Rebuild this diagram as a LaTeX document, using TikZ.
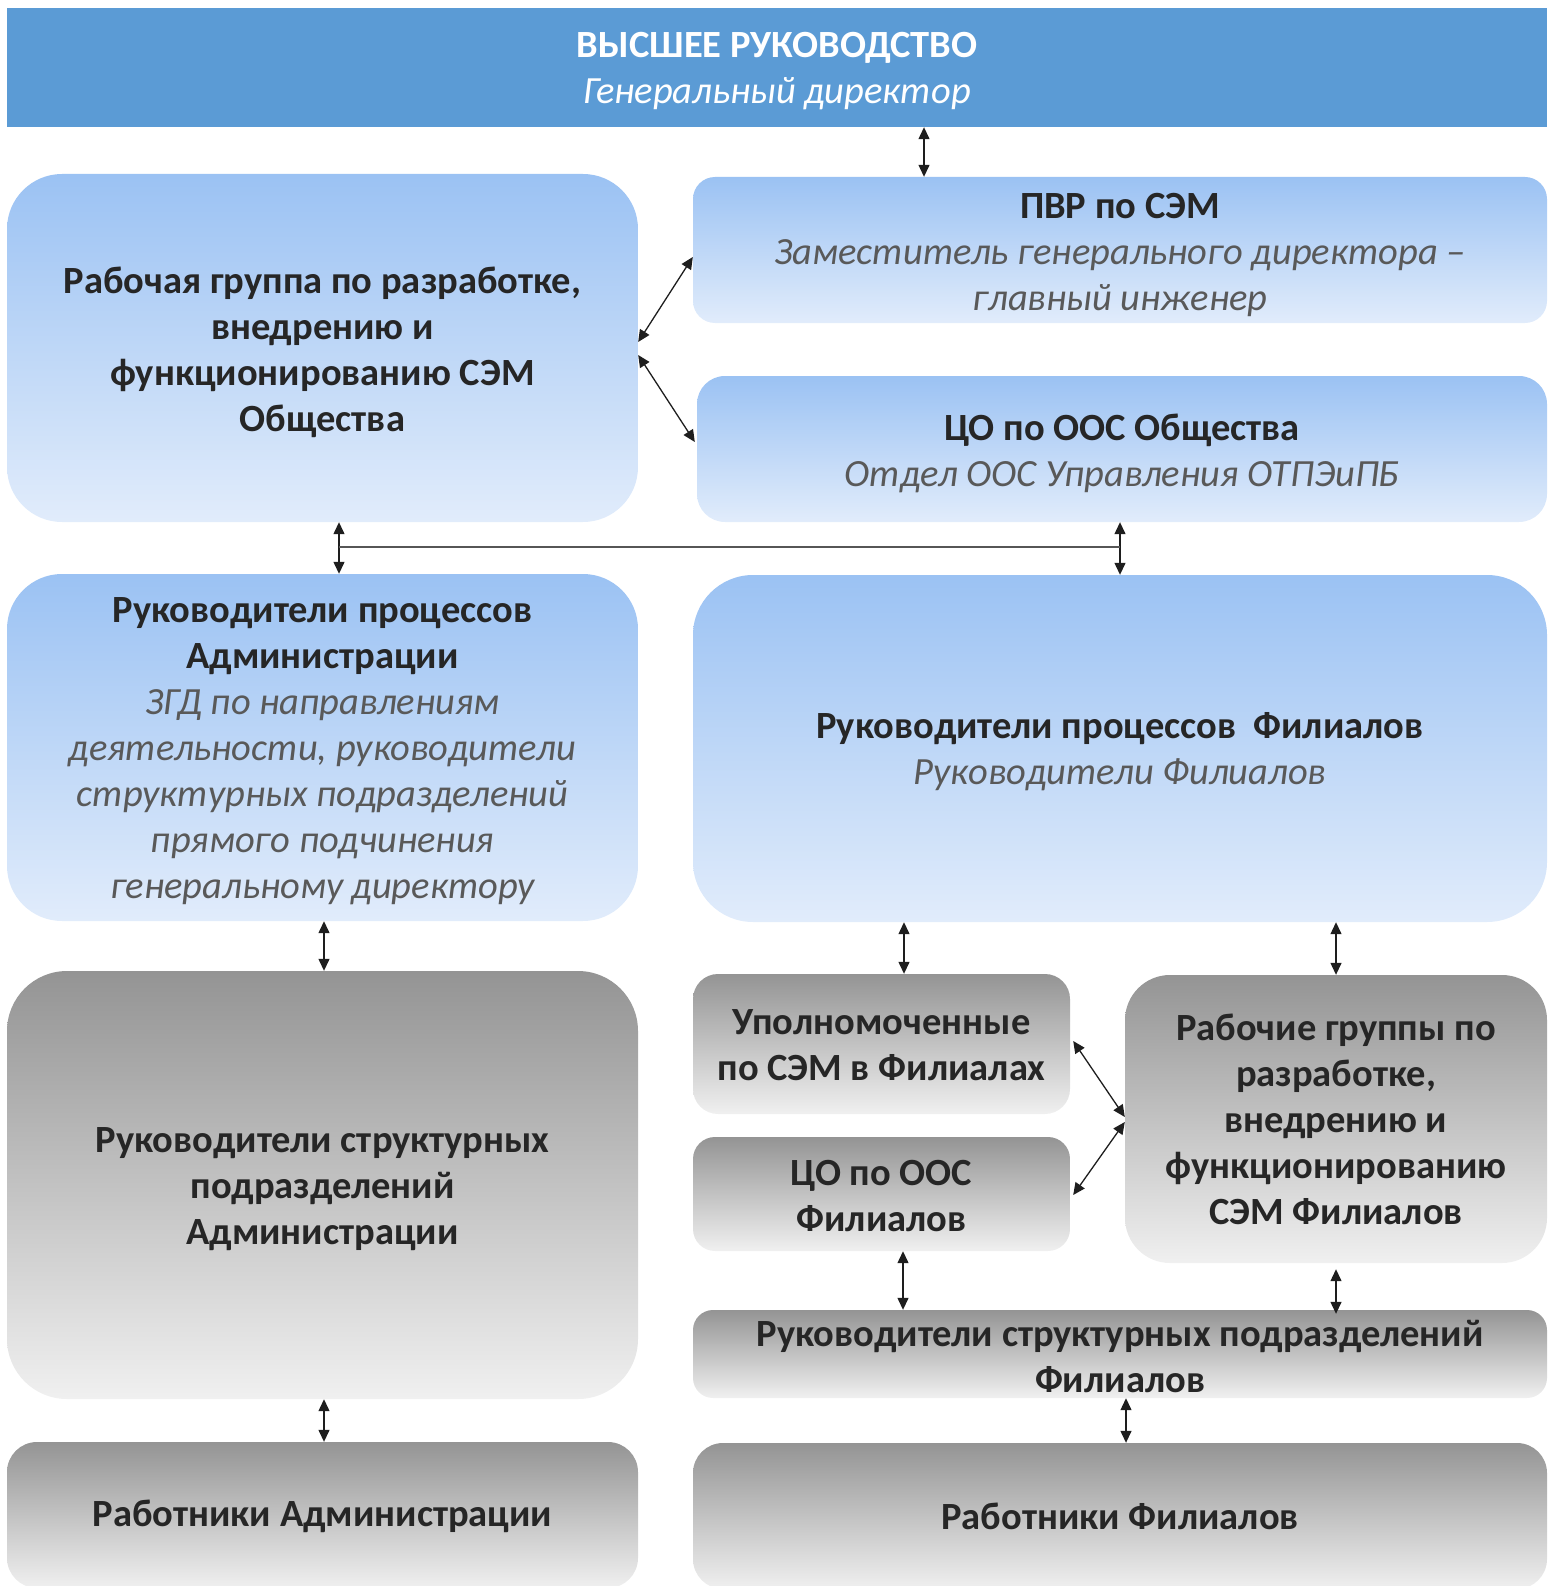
\documentclass[tikz,border=0pt]{standalone}
\usepackage{fontspec}
\setmainfont{Carlito}
\usetikzlibrary{arrows.meta}
\definecolor{banblue}{RGB}{91,155,213}
\definecolor{btop}{RGB}{155,194,243}
\definecolor{bbot}{RGB}{225,236,251}
\definecolor{gtop}{RGB}{148,148,148}
\definecolor{gbot}{RGB}{240,240,240}
\definecolor{txtd}{RGB}{38,38,38}
\definecolor{txti}{RGB}{89,89,89}
\definecolor{arrc}{RGB}{30,30,30}
\begin{document}
\begin{tikzpicture}[x=1pt,y=-1pt,
  bx/.style={inner sep=0pt},
  lbl/.style={inner sep=0pt, align=center, font=\fontsize{38.5}{46}\selectfont, text=txtd},
  bluebox/.style={bx, top color=btop, bottom color=bbot},
  graybox/.style={bx, top color=gtop, bottom color=gbot},
  arr/.style={{Triangle[length=12pt,width=11pt]}-{Triangle[length=12pt,width=11pt]}, line width=1.3pt, draw=arrc},
  ln/.style={line width=1.3pt, draw=arrc!75}]
\useasboundingbox (0,0) rectangle (1547,1586);
\newcommand{\iline}[1]{{\itshape\color{txti}#1}}
% banner
\node[bx, fill=banblue, minimum width=1540, minimum height=119] (ban) at (777,67.5) {};
\node[lbl, text=white] (ban-t) at ([yshift=-4]ban.center)
  {{\bfseries ВЫСШЕЕ РУКОВОДСТВО}\\{\itshape Генеральный директор}};
% row 1
\node[bluebox, rounded corners=55, minimum width=631, minimum height=348] (rg) at (322.5,348) {};
\node[lbl] (rg-t) at ([yshift=-4]rg.center)
  {\bfseries Рабочая группа по разработке,\\\bfseries внедрению и\\\bfseries функционированию СЭМ\\\bfseries Общества};
\node[bluebox, rounded corners=22, minimum width=854, minimum height=146] (pvr) at (1120,250) {};
\node[lbl] (pvr-t) at ([yshift=-5]pvr.center)
  {\bfseries ПВР по СЭМ\\\iline{Заместитель генерального директора –}\\\iline{главный инженер}};
\node[bluebox, rounded corners=28, minimum width=850, minimum height=146] (coo) at (1122,449) {};
\node[lbl] (coo-t) at ([yshift=-4]coo.center)
  {\bfseries ЦО по ООС Общества\\\iline{Отдел ООС Управления ОТПЭиПБ}};
% row 2
\node[bluebox, rounded corners=55, minimum width=631, minimum height=347] (rpa) at (322.5,747.5) {};
\node[lbl] (rpa-t) at ([yshift=-4]rpa.center)
  {\bfseries Руководители процессов\\\bfseries Администрации\\\iline{ЗГД по направлениям}\\\iline{деятельности, руководители}\\\iline{структурных подразделений}\\\iline{прямого подчинения}\\\iline{генеральному директору}};
\node[bluebox, rounded corners=60, minimum width=854, minimum height=347] (rpf) at (1120,748.5) {};
\node[lbl] (rpf-t) at ([yshift=-3]rpf.center)
  {\bfseries Руководители процессов\ \ Филиалов\\\iline{Руководители Филиалов}};
% row 3
\node[graybox, rounded corners=60, minimum width=631, minimum height=428] (rsa) at (322.5,1185) {};
\node[lbl] (rsa-t) at ([yshift=-4]rsa.center)
  {\bfseries Руководители структурных\\\bfseries подразделений\\\bfseries Администрации};
\node[graybox, rounded corners=25, minimum width=377, minimum height=140] (upf) at (881.5,1044) {};
\node[lbl] (upf-t) at ([yshift=-1]upf.center)
  {\bfseries Уполномоченные\\\bfseries по СЭМ в Филиалах};
\node[graybox, rounded corners=22, minimum width=377, minimum height=114] (cof) at (881.5,1194) {};
\node[lbl] (cof-t) at ([yshift=-2]cof.center)
  {\bfseries ЦО по ООС\\\bfseries Филиалов};
\node[graybox, rounded corners=45, minimum width=422, minimum height=288] (rgf) at (1336,1119) {};
\node[lbl] (rgf-t) at (rgf.center)
  {\bfseries Рабочие группы по\\\bfseries разработке,\\\bfseries внедрению и\\\bfseries функционированию\\\bfseries СЭМ Филиалов};
\node[graybox, rounded corners=20, minimum width=854, minimum height=88] (rsf) at (1120,1354) {};
\node[lbl] (rsf-t) at ([yshift=-2]rsf.center)
  {\bfseries Руководители структурных подразделений\\\bfseries Филиалов};
% row 4
\node[graybox, rounded corners=30, minimum width=631, minimum height=146] (wa) at (322.5,1515) {};
\node[lbl] (wa-t) at ([yshift=-1]wa.center) {\bfseries Работники Администрации};
\node[graybox, rounded corners=30, minimum width=854, minimum height=146] (wf) at (1120,1516) {};
\node[lbl] (wf-t) at (wf.center) {\bfseries Работники Филиалов};
% connectors
\draw[arr] ([xshift=147]ban.south) -- ([xshift=-196]pvr.north);
\draw[arr] ([yshift=6]rg.east) -- ([yshift=-7]pvr.west);
\draw[arr] ([yshift=-7]rg.east) -- ([xshift=-2,yshift=7]coo.west);
\coordinate (busL) at (339,547);
\coordinate (busR) at (1120,547);
\draw[arr] ([xshift=16.5]rg.south) -- ([xshift=16.5]rpa.north);
\draw[arr] ([xshift=-2]coo.south) -- (rpf.north);
\draw[ln] (busL) -- (busR);
\draw[arr] ([xshift=1.5]rpa.south) -- ([xshift=1.5]rsa.north);
\draw[arr] ([xshift=1.5]rsa.south) -- ([xshift=1.5]wa.north);
\draw[arr] ([xshift=-216]rpf.south) -- ([xshift=22.5]upf.north);
\draw[arr] ([xshift=216]rpf.south) -- (rgf.north);
\draw[arr] ([xshift=3,yshift=3]upf.east) -- ([yshift=2]rgf.west);
\draw[arr] ([xshift=3,yshift=-1]cof.east) -- ([yshift=-3]rgf.west);
\draw[arr] ([xshift=21.5]cof.south) -- ([xshift=-217]rsf.north);
\draw[arr] ([yshift=-6]rgf.south) -- ([xshift=216,yshift=-4]rsf.north);
\draw[arr] ([xshift=6]rsf.south) -- ([xshift=6]wf.north);
\end{tikzpicture}
\end{document}
